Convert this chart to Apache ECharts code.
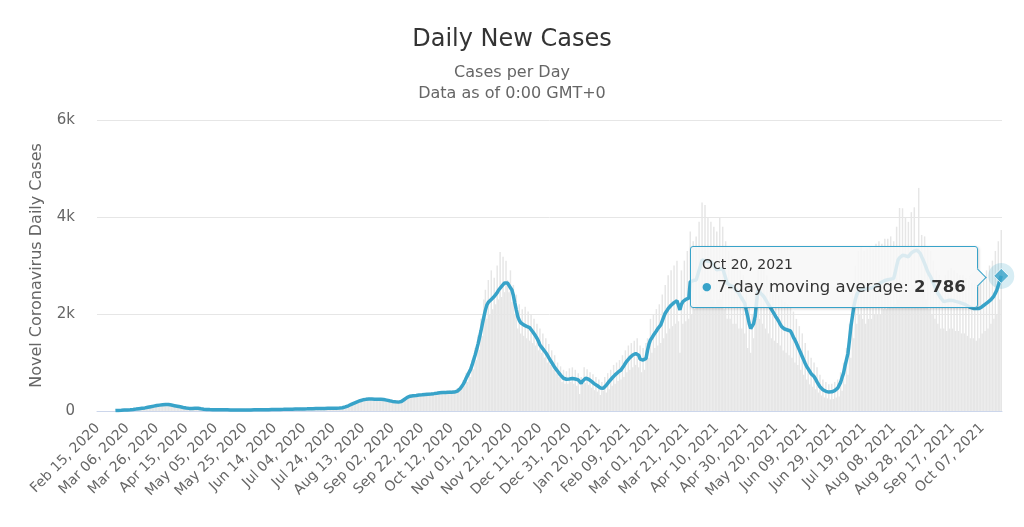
<!DOCTYPE html>
<html><head><meta charset="utf-8">
<script src="https://cdn.jsdelivr.net/npm/echarts@6/dist/echarts.min.js"></script>
<style>html,body{margin:0;padding:0;background:#fff}#c{width:1024px;height:527px}</style>
</head><body><div id="c"></div>
<script>
// First day shown on the category axis (Feb 15, 2020), one category per day
const startDate = { year: 2020, month: 2, day: 15 };
const monthNames = ['Jan','Feb','Mar','Apr','May','Jun','Jul','Aug','Sep','Oct','Nov','Dec'];
const yTicks = [0, 2000, 4000, 6000];
const yTickLabels = ['0', '2k', '4k', '6k'];
const titleText = 'Daily New Cases';
const subtitleLines = ['Cases per Day', 'Data as of 0:00 GMT+0'];
const yAxisTitle = 'Novel Coronavirus Daily Cases';
const seriesName = '7-day moving average';

// Daily new cases (grey columns)
const dailyCases = [
0,0,0,0,0,0,0,0,0,0,0,0,
5,9,14,10,18,22,15,26,20,
30,22,35,38,28,45,50,40,60,55,
68,58,80,72,95,84,102,90,118,108,
130,112,138,120,145,128,150,
140,118,130,105,120,96,108,82,
95,72,84,60,70,50,62,44,55,
48,70,55,72,40,52,
38,45,30,40,28,34,26,32,25,30,
24,30,22,28,26,20,27,22,25,21,
26,18,24,20,25,17,23,20,24,19,
25,20,26,21,27,22,28,20,29,23,
30,22,31,24,33,25,32,26,34,27,
36,27,37,29,38,30,40,31,41,32,
44,33,45,34,47,36,48,37,50,38,
52,39,54,40,56,41,58,43,60,44,
62,45,63,46,65,48,66,47,68,49,70,50,71,52,75,58,
90,70,115,92,140,118,170,140,200,165,230,190,250,215,260,
275,220,280,225,270,230,265,220,270,225,268,230,255,215,
245,200,235,190,222,175,210,168,205,165,
230,185,270,230,310,265,340,290,350,
345,300,355,305,360,310,370,320,380,325,
385,330,390,335,400,340,410,350,415,355,
420,360,425,360,430,365,435,370,440,
470,400,520,470,
640,520,790,600,860,700,1050,860,1300,1050,1560,1260,1900,1550,2300,
2500,1900,2700,2000,2900,2100,2750,2200,3000,2300,3280,2350,3180,2450,3100,
2700,2450,2900,2250,2600,2000,2400,1700,2200,1600,2100,1550,
2150,1500,2050,1450,2000,1400,1900,1350,1800,1250,1700,
1200,1600,1100,1500,1000,1380,950,1250,850,
1150,780,1000,700,920,600,850,560,820,
560,880,600,900,560,850,520,780,350,700,
560,900,580,860,540,800,
480,760,430,700,400,650,330,600,420,
700,380,780,450,850,520,950,560,1000,620,1050,650,1150,700,1250,800,1350,850,1400,900,1450,950,1500,
900,1350,800,1300,850,1400,
1500,1100,1900,1200,2000,1300,2100,1350,2200,1400,2400,1500,2600,1600,2800,1700,2900,1750,3000,1800,3100,1850,
1200,
2900,1800,3100,1850,3300,1900,
3700,2000,3500,2100,3600,2200,3900,2400,4300,
2500,4250,2400,4000,2500,3900,2300,3800,2200,3700,2300,3980,2300,3800,
2100,3500,1900,3300,1900,3200,1800,3100,1800,3000,1700,2900,1700,2800,1600,
2500,1300,2200,1200,2000,1500,2600,1900,3000,
1900,3000,1800,2900,1700,2800,1600,2700,1500,2600,1450,2500,1400,2400,1350,2300,1250,2250,1200,2200,1150,2150,
1100,2050,1000,1900,950,1750,850,1600,750,1400,650,1250,550,1100,500,1000,450,900,380,750,320,650,280,600,260,550,240,560,250,600,280,650,300,
800,420,1000,550,1300,750,1800,1100,2500,1500,3000,1800,3300,2000,
3400,1900,3300,1800,3350,1900,3400,1900,3350,2000,3450,2000,3500,2000,3450,2100,3550,2100,3550,2150,3600,2150,3500,
2200,3800,2300,4185,2400,4180,2500,4000,2400,3900,2500,4100,2600,4200,2600,2700,4600,
2600,3630,2500,3600,2300,3400,2100,3300,2000,3100,1900,2900,1800,2800,1700,2700,1700,
2800,1650,2900,1700,2950,1700,2900,1650,2850,1650,2800,1600,2800,1600,2750,1550,2700,1500,2650,1500,2650,1450,2700,1500,2700,
1600,2800,1650,2900,1700,3000,1800,3100,1900,3300,2000,3500,2300,3730
];

// 7-day moving average (blue line)
const movingAverage = [
null,null,null,null,null,null,null,null,null,null,null,null,
8,10,12,14,15,17,19,20,22,
24,27,30,33,36,40,44,48,52,56,
60,64,70,76,82,88,94,100,106,112,
117,121,125,129,132,134,135,
133,128,122,116,110,104,98,92,
86,80,74,68,63,58,54,51,50,
52,56,60,58,52,46,
42,38,35,33,31,30,29,28,28,27,
27,26,26,25,25,24,24,24,23,23,
23,22,22,22,22,21,21,21,22,22,
22,23,23,23,24,24,24,25,25,25,
26,26,27,27,28,28,29,29,30,30,
31,31,32,33,33,34,35,36,36,37,
38,38,39,40,40,41,42,42,43,43,
44,44,45,46,46,47,48,49,50,50,
51,52,52,53,54,55,55,56,56,57,58,58,59,60,62,66,
74,84,96,108,122,136,150,164,178,190,202,212,222,230,236,
240,243,245,246,246,245,243,242,242,243,244,242,238,232,
225,218,211,204,198,193,189,186,183,182,
195,215,238,260,280,295,305,312,316,
318,320,324,328,330,333,337,342,345,347,
350,352,355,358,362,366,370,375,378,380,
382,384,385,386,387,388,389,390,392,
410,435,465,500,
550,610,680,740,780,860,950,1050,1150,1260,1380,1510,1650,1800,1945,
2080,2185,2240,2280,2300,2320,2360,2400,2440,2495,2530,2570,2610,2640,2665,
2640,2590,2540,2495,2380,2225,2080,1945,1870,1820,1790,1775,
1760,1745,1740,1720,1680,1640,1600,1550,1500,1440,1360,
1320,1280,1240,1200,1155,1100,1050,1000,950,
900,860,820,780,740,700,675,660,655,
655,660,670,670,665,660,650,640,600,570,
620,660,675,670,655,640,
610,585,560,545,520,495,475,465,470,
500,530,570,610,645,680,710,745,775,800,825,845,890,935,985,1030,1070,1100,1130,1155,1175,1185,1190,
1150,1070,1040,1050,1070,1085,
1250,1380,1465,1510,1560,1600,1650,1700,1740,1775,1860,1940,2015,2060,2110,2150,2180,2210,2235,2255,2275,2290,
2085,
2200,2255,2280,2300,2315,2325,
2665,2680,2690,2695,2700,2800,2900,3000,3115,
3110,3100,3090,3085,3080,3080,3040,2990,2950,2910,2910,2920,2930,2940,
2840,2740,2635,2610,2590,2575,2565,2530,2495,2460,2425,2370,2320,2270,2220,
2080,1945,1800,1700,1670,1800,1945,2250,2495,
2460,2420,2390,2355,2300,2250,2200,2150,2100,2050,2000,1945,1900,1850,1790,1740,1710,1690,1680,1670,1660,1650,
1590,1520,1465,1400,1330,1260,1190,1120,1050,980,915,870,820,770,730,710,660,600,550,500,470,440,420,405,395,390,390,395,400,420,445,470,500,
590,690,780,930,1060,1190,1460,1740,1950,2150,2300,2400,2460,2495,
2500,2505,2510,2515,2520,2525,2530,2540,2550,2560,2580,2600,2620,2640,2660,2680,2690,2700,2705,2710,2720,2730,2735,
2850,2990,3115,3160,3190,3210,3215,3200,3190,3180,3220,3260,3285,3300,3310,3315,3320,
3250,3180,3115,3040,2960,2880,2820,2770,2700,2630,2560,2490,2425,2380,2330,2290,2255,
2260,2270,2280,2285,2290,2280,2270,2260,2255,2245,2235,2225,2215,2205,2190,2170,2150,2135,2120,2115,2120,2115,2110,2115,2120,
2150,2180,2200,2220,2245,2270,2295,2320,2370,2430,2495,2590,2690,2786
];

// Category labels: one per day starting at startDate
const categories = [];
for (let i = 0; i < dailyCases.length; i++) {
  const d = new Date(Date.UTC(startDate.year, startDate.month - 1, startDate.day + i));
  const dd = String(d.getUTCDate()).padStart(2, '0');
  categories.push(monthNames[d.getUTCMonth()] + ' ' + dd + ', ' + d.getUTCFullYear());
}
const lastIndex = movingAverage.length - 1;
const highlight = movingAverage.map((v, i) => i === lastIndex ? v : '-');

const FONT = 'DejaVu Sans';
const LINE = '#38a3c9';
const fmt = v => String(v).replace(/\B(?=(\d{3})+(?!\d))/g, ' ');
const tooltipDate = i => {
  const d = new Date(Date.UTC(startDate.year, startDate.month - 1, startDate.day + i));
  return monthNames[d.getUTCMonth()] + ' ' + d.getUTCDate() + ', ' + d.getUTCFullYear();
};

const chart = echarts.init(document.getElementById('c'), null, { renderer: 'canvas' });
chart.setOption({
  animation: false,
  backgroundColor: '#ffffff',
  textStyle: { fontFamily: FONT },
  title: [
    { text: titleText, left: 'center', top: 28, padding: 0,
      textStyle: { fontFamily: FONT, fontSize: 24, fontWeight: 'normal', color: '#333333' } },
    { text: subtitleLines[0], left: 'center', top: 65, padding: 0,
      textStyle: { fontFamily: FONT, fontSize: 16, fontWeight: 'normal', color: '#666666' } },
    { text: subtitleLines[1], left: 'center', top: 86, padding: 0,
      textStyle: { fontFamily: FONT, fontSize: 16, fontWeight: 'normal', color: '#666666' } }
  ],
  grid: { left: 97, right: 22, top: 120, bottom: 116, containLabel: false },
  tooltip: {
    trigger: 'item',
    triggerOn: 'none',
    alwaysShowContent: true,
    backgroundColor: 'rgba(247,247,247,0.85)',
    borderColor: LINE,
    borderWidth: 1,
    padding: [7, 11, 7, 11],
    extraCssText: 'box-shadow:1px 1px 3px rgba(0,0,0,0.18);border-radius:3px;overflow:visible;',
    textStyle: { fontFamily: FONT, color: '#333333' },
    position: (point, params, dom, rect, size) => [point[0] - size.contentSize[0] - 23, point[1] - 30],
    formatter: p => {
      const arrow = '<div style="position:absolute;right:-7px;top:24px;width:12px;height:12px;background:rgba(247,247,247,1);border-top:1px solid ' + LINE + ';border-right:1px solid ' + LINE + ';transform:rotate(45deg);"></div>';
      return '<div style="font-size:14px;line-height:20px;color:#333">' + tooltipDate(p.dataIndex) + '</div>' +
        '<div style="font-size:16.5px;line-height:26px;color:#333;white-space:nowrap"><span style="color:' + LINE + ';font-size:11px;vertical-align:2px">\u25CF</span> ' +
        seriesName + ': <b>' + fmt(p.value) + '</b></div>' + arrow;
    }
  },
  xAxis: {
    type: 'category',
    data: categories,
    boundaryGap: true,
    axisLine: { show: true, lineStyle: { color: '#ccd6eb', width: 1 } },
    axisTick: { show: false },
    axisLabel: { interval: 19, rotate: 45, fontSize: 14, color: '#666666', margin: 15, fontFamily: FONT },
    splitLine: { show: false }
  },
  yAxis: {
    type: 'value',
    min: yTicks[0], max: yTicks[yTicks.length - 1], interval: yTicks[1] - yTicks[0],
    name: yAxisTitle, nameLocation: 'middle', nameGap: 52, nameRotate: 90,
    nameTextStyle: { fontSize: 16, color: '#666666', fontFamily: FONT },
    axisLine: { show: false }, axisTick: { show: false },
    axisLabel: { fontSize: 15, color: '#666666', margin: 22, fontFamily: FONT,
      formatter: v => yTickLabels[yTicks.indexOf(v)] },
    splitLine: { lineStyle: { color: '#e6e6e6', width: 1 } }
  },
  series: [
    { type: 'bar', name: 'Daily Cases', data: dailyCases, barCategoryGap: '0%',
      itemStyle: { color: '#e6e6e6' }, silent: true, z: 1 },
    { type: 'line', name: seriesName, data: movingAverage, showSymbol: false, symbol: 'none',
      lineStyle: { color: LINE, width: 3.5 }, itemStyle: { color: LINE }, silent: true, z: 3 },
    { type: 'scatter', data: highlight, symbol: 'circle', symbolSize: 26,
      itemStyle: { color: 'rgba(56,163,201,0.25)' }, silent: true, z: 4 },
    { type: 'scatter', name: seriesName, data: highlight, symbol: 'diamond', symbolSize: 15,
      itemStyle: { color: LINE, borderColor: '#ffffff', borderWidth: 1 }, z: 5 }
  ]
});
setTimeout(() => chart.dispatchAction({ type: 'showTip', seriesIndex: 3, dataIndex: lastIndex }), 0);
</script>
</body></html>
